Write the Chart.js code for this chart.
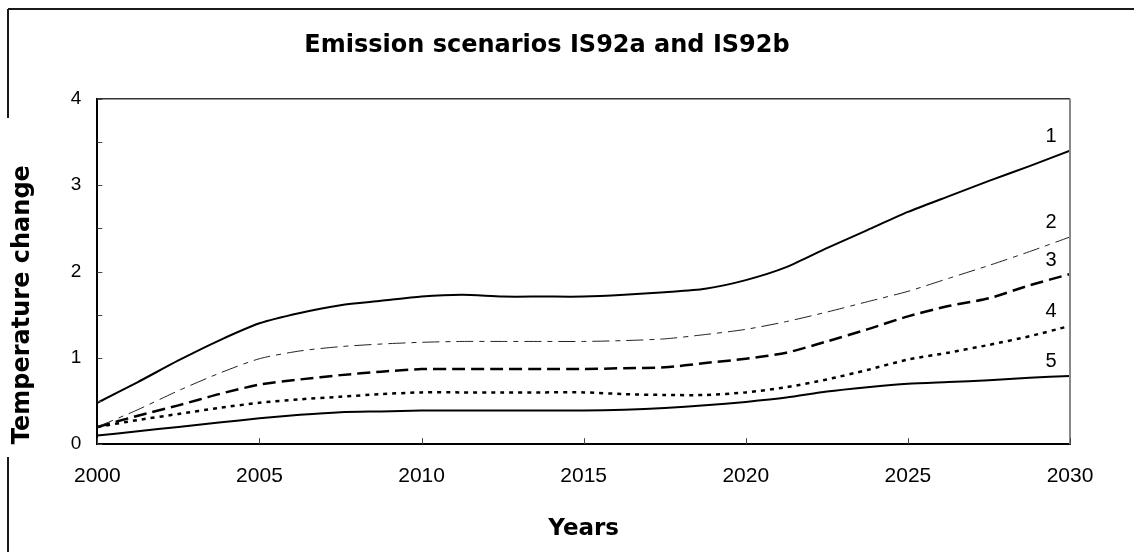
<!DOCTYPE html>
<html lang="en">
<head>
  <meta charset="UTF-8">
  <title>Emission scenarios IS92a and IS92b</title>
  <script src="https://cdn.jsdelivr.net/npm/chart.js"></script>
  <style>
    html, body { margin: 0; padding: 0; background: #fff; }
    #chart-container { width: 1134px; height: 552px; position: relative; }
    #chart { display: block; }
  </style>
</head>
<body>
  <div id="chart-container">
    <canvas id="chart" width="1134" height="552"></canvas>
  </div>

  <script>
    // years on a 1.25-year grid
    const years = [2000, 2001.25, 2002.5, 2003.75, 2005, 2006.25, 2007.5, 2008.75, 2010,
                   2011.25, 2012.5, 2013.75, 2015, 2016.25, 2017.5, 2018.75, 2020,
                   2021.25, 2022.5, 2023.75, 2025, 2026.25, 2027.5, 2028.75, 2030];

    const curve1 = [0.48, 0.72, 0.97, 1.20, 1.40, 1.52, 1.61, 1.66, 1.71, 1.73, 1.71, 1.71, 1.71,
                    1.73, 1.76, 1.80, 1.90, 2.05, 2.27, 2.48, 2.69, 2.87, 3.05, 3.22, 3.40];
    const curve2 = [0.20, 0.40, 0.62, 0.82, 0.99, 1.08, 1.13, 1.16, 1.18, 1.19, 1.19, 1.19, 1.19,
                    1.20, 1.22, 1.27, 1.33, 1.42, 1.53, 1.65, 1.77, 1.92, 2.07, 2.23, 2.40];
    const curve3 = [0.20, 0.33, 0.45, 0.58, 0.69, 0.75, 0.80, 0.84, 0.87, 0.87, 0.87, 0.87, 0.87,
                    0.88, 0.89, 0.94, 0.99, 1.06, 1.19, 1.33, 1.48, 1.60, 1.69, 1.84, 1.97];
    const curve4 = [0.20, 0.28, 0.35, 0.42, 0.48, 0.52, 0.55, 0.58, 0.60, 0.60, 0.60, 0.60, 0.60,
                    0.58, 0.57, 0.57, 0.60, 0.66, 0.75, 0.86, 0.98, 1.06, 1.15, 1.25, 1.37];
    const curve5 = [0.10, 0.15, 0.20, 0.25, 0.30, 0.34, 0.37, 0.38, 0.39, 0.39, 0.39, 0.39, 0.39,
                    0.40, 0.42, 0.45, 0.49, 0.54, 0.61, 0.66, 0.70, 0.72, 0.74, 0.77, 0.79];

    const curveNames = ['1', '2', '3', '4', '5'];

    const toPoints = vals => vals.map((v, i) => ({ x: years[i], y: v }));

    // outer frame, plot border and inward tick marks
    const framePlugin = {
      id: 'frame',
      beforeDraw(chart) {
        const c = chart.ctx;
        c.save();
        c.strokeStyle = '#1a1a1a';
        c.lineWidth = 2;
        c.beginPath();
        c.moveTo(8, 9); c.lineTo(1134, 9);
        c.moveTo(8, 9); c.lineTo(8, 118);
        c.moveTo(8, 457); c.lineTo(8, 552);
        c.stroke();
        c.restore();
      },
      afterDraw(chart) {
        const c = chart.ctx, a = chart.chartArea;
        const xs = chart.scales.x, ys = chart.scales.y;
        c.save();
        c.lineWidth = 1.5;
        c.strokeStyle = '#333';
        c.beginPath(); c.moveTo(a.left, a.top); c.lineTo(a.right, a.top); c.stroke();
        c.strokeStyle = '#888';
        c.lineWidth = 2;
        c.beginPath(); c.moveTo(a.right, a.top); c.lineTo(a.right, a.bottom); c.stroke();
        // ticks pointing into the plot
        c.strokeStyle = '#444';
        c.lineWidth = 1;
        ys.ticks.forEach(t => {
          const y = Math.round(ys.getPixelForValue(t.value)) + 0.5;
          c.beginPath(); c.moveTo(a.left, y); c.lineTo(a.left + 5, y); c.stroke();
        });
        xs.ticks.forEach(t => {
          const x = Math.round(xs.getPixelForValue(t.value)) + 0.5;
          c.beginPath(); c.moveTo(x, a.bottom); c.lineTo(x, a.bottom - 6); c.stroke();
        });
        c.restore();
      },
      afterDatasetsDraw(chart) {
        const c = chart.ctx;
        c.save();
        c.fillStyle = '#000';
        c.font = '20px "Liberation Sans", Arial, sans-serif';
        c.textAlign = 'center';
        c.textBaseline = 'bottom';
        chart.data.datasets.forEach((ds, i) => {
          const pts = chart.getDatasetMeta(i).data;
          const p = pts[pts.length - 1];
          c.fillText(curveNames[i], p.x - 19, p.y - 4);
        });
        c.restore();
      }
    };

    const ctx = document.getElementById('chart').getContext('2d');

    new Chart(ctx, {
      type: 'line',
      data: {
        datasets: [
          { label: '1', data: toPoints(curve1), borderColor: '#000', borderWidth: 2 },
          { label: '2', data: toPoints(curve2), borderColor: '#222', borderWidth: 1,
            borderDash: [17, 6, 5, 6] },
          { label: '3', data: toPoints(curve3), borderColor: '#000', borderWidth: 2.5,
            borderDash: [13, 6] },
          { label: '4', data: toPoints(curve4), borderColor: '#000', borderWidth: 2.5,
            borderDash: [4, 5] },
          { label: '5', data: toPoints(curve5), borderColor: '#000', borderWidth: 2 }
        ]
      },
      options: {
        responsive: false,
        animation: false,
        layout: { padding: { top: 0, right: 64, bottom: 0, left: 24 } },
        elements: {
          point: { radius: 0 },
          line: { tension: 0.25, fill: false }
        },
        scales: {
          x: {
            type: 'linear',
            min: 2000,
            max: 2030,
            grid: { drawOnChartArea: false, drawTicks: false },
            border: { color: '#000', width: 2 },
            ticks: {
              stepSize: 5,
              padding: 19,
              color: '#000',
              font: { family: '"Liberation Sans", Arial, sans-serif', size: 21 },
              callback: v => String(v)
            },
            title: {
              display: true,
              text: 'Years',
              color: '#000',
              font: { family: '"DejaVu Sans", Verdana, sans-serif', size: 23, weight: 'bold' },
              padding: { top: 8, bottom: 9 }
            }
          },
          y: {
            min: 0,
            max: 4,
            grid: { drawOnChartArea: false, drawTicks: false },
            border: { color: '#000', width: 2 },
            ticks: {
              stepSize: 0.5,
              padding: 16,
              color: '#000',
              font: { family: '"Liberation Sans", Arial, sans-serif', size: 19 },
              callback: v => Number.isInteger(v) ? String(v) : ''
            },
            title: {
              display: true,
              text: 'Temperature change',
              align: 'start',
              color: '#000',
              font: { family: '"DejaVu Sans", Verdana, sans-serif', size: 24, weight: 'bold' },
              padding: { top: -16, bottom: 18 }
            }
          }
        },
        plugins: {
          legend: { display: false },
          tooltip: { enabled: false },
          title: {
            display: true,
            text: 'Emission scenarios IS92a and IS92b',
            color: '#000',
            font: { family: '"DejaVu Sans", Verdana, sans-serif', size: 24, weight: 'bold' },
            padding: { top: 31, bottom: 39 }
          }
        }
      },
      plugins: [framePlugin]
    });
  </script>
</body>
</html>
